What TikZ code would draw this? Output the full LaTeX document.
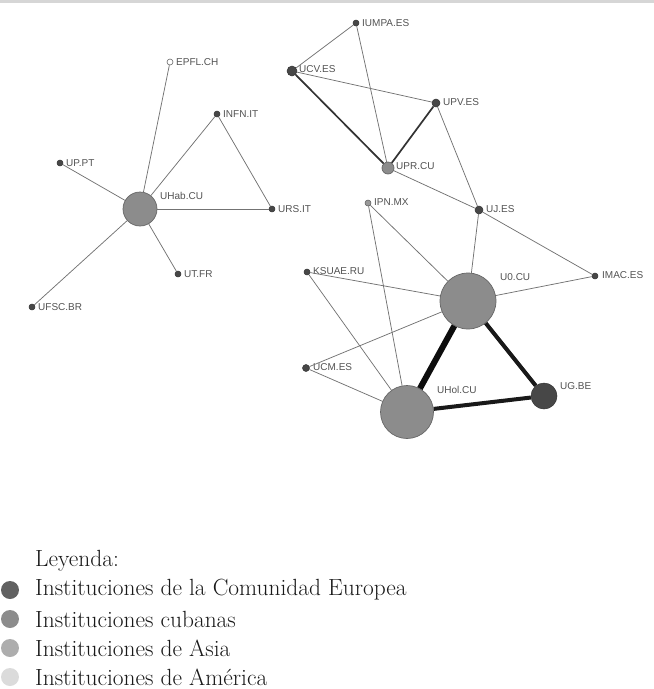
\documentclass[tikz,border=0pt]{standalone}
\usepackage{fontspec}
\newfontfamily\labfont{Liberation Sans}
\begin{document}
\begin{tikzpicture}[x=1pt,y=-1pt,
  eu/.style={circle,fill=black!72,draw=black!80,line width=0.5pt,inner sep=0pt,minimum size=#1},
  cu/.style={circle,fill=black!45,draw=black!60,line width=0.7pt,inner sep=0pt,minimum size=#1},
  am/.style={circle,fill=black!40,draw=black!65,line width=0.5pt,inner sep=0pt,minimum size=#1},
  wt/.style={circle,fill=white,draw=black!60,line width=0.6pt,inner sep=0pt,minimum size=#1},
  lab/.style={font=\labfont\fontsize{10}{11}\selectfont,text=black!68,inner sep=0pt,anchor=west},
  thin/.style={draw=black!55,line width=0.75pt},
  mid/.style={draw=black!80,line width=1.7pt},
  thick/.style={draw=black!90,line width=4pt},
  vthick/.style={draw=black!95,line width=6pt},
  legdot/.style={circle,inner sep=0pt,minimum size=18pt,draw=none},
  legtxt/.style={anchor=west,inner sep=0pt,font=\fontsize{23.4}{25}\selectfont,text=black!90}
]
\useasboundingbox (0,0) rectangle (654,689);
\fill[black!16] (0,0) rectangle (654,3);

% nodes
\node[wt=6pt] (epfl) at (170,62) {};
\node[eu=6pt] (infn) at (217,114) {};
\node[eu=6pt] (uppt) at (60,163) {};
\node[cu=34pt] (uhab) at (140,209) {};
\node[eu=6pt] (urs) at (272,209) {};
\node[eu=6pt] (utfr) at (178,274) {};
\node[eu=6pt] (ufsc) at (32,307) {};

\node[eu=6pt] (iumpa) at (356,23) {};
\node[eu=10pt] (ucv) at (292,71) {};
\node[eu=8pt] (upv) at (436,103) {};
\node[cu=12pt] (upr) at (388,168) {};
\node[am=6pt] (ipn) at (368,203) {};
\node[eu=8pt] (uj) at (479,210) {};
\node[eu=6pt] (ksuae) at (307,272) {};
\node[eu=6pt] (imac) at (595,276) {};
\node[cu=56pt] (u0) at (468,301) {};
\node[eu=7pt] (ucm) at (306,368) {};
\node[cu=53pt] (uhol) at (407,412) {};
\node[eu=26pt] (ug) at (544,396) {};

% labels
\node[lab] (lepfl) at (176,62) {EPFL.CH};
\node[lab] (linfn) at (223,114) {INFN.IT};
\node[lab] (luppt) at (66,163) {UP.PT};
\node[lab] (luhab) at (160,196) {UHab.CU};
\node[lab] (lurs) at (278,209) {URS.IT};
\node[lab] (lutfr) at (184,274) {UT.FR};
\node[lab] (lufsc) at (38,307) {UFSC.BR};
\node[lab] (liumpa) at (362,23) {IUMPA.ES};
\node[lab] (lucv) at (299,69) {UCV.ES};
\node[lab] (lupv) at (443,102) {UPV.ES};
\node[lab] (lupr) at (396,166) {UPR.CU};
\node[lab] (lipn) at (374,202) {IPN.MX};
\node[lab] (luj) at (486,209) {UJ.ES};
\node[lab] (lksuae) at (313,271) {KSUAE.RU};
\node[lab] (limac) at (602,275) {IMAC.ES};
\node[lab] (lu0) at (500,277) {U0.CU};
\node[lab] (lucm) at (313,367) {UCM.ES};
\node[lab] (luhol) at (437,390) {UHol.CU};
\node[lab] (lug) at (560,386) {UG.BE};

% edges
\draw[thin] (uhab) -- (epfl);
\draw[thin] (uhab) -- (infn);
\draw[thin] (infn) -- (urs);
\draw[thin] (uhab) -- (urs);
\draw[thin] (uhab) -- (uppt);
\draw[thin] (uhab) -- (utfr);
\draw[thin] (uhab) -- (ufsc);
\draw[thin] (iumpa) -- (ucv);
\draw[thin] (iumpa) -- (upr);
\draw[thin] (ucv) -- (upv);
\draw[mid] (ucv) -- (upr);
\draw[mid] (upv) -- (upr);
\draw[thin] (upv) -- (uj);
\draw[thin] (upr) -- (uj);
\draw[thin] (uj) -- (imac);
\draw[thin] (uj) -- (u0);
\draw[thin] (ipn) -- (u0);
\draw[thin] (ipn) -- (uhol);
\draw[thin] (ksuae) -- (u0);
\draw[thin] (ksuae) -- (uhol);
\draw[thin] (ucm) -- (u0);
\draw[thin] (ucm) -- (uhol);
\draw[thin] (imac) -- (u0);
\draw[vthick] (u0) -- (uhol);
\draw[thick] (u0) -- (ug);
\draw[thick] (uhol) -- (ug);

% legend
\node[legtxt] (ley) at (35,561) {Leyenda:};
\node[legdot,fill=black!62] (d1) at (10,590) {};
\node[legtxt] (t1) at (35,590) {Instituciones de la Comunidad Europea};
\node[legdot,fill=black!45] (d2) at (10,619) {};
\node[legtxt] (t2) at (35,619) {Instituciones cubanas};
\node[legdot,fill=black!32] (d3) at (10,648) {};
\node[legtxt] (t3) at (35,648) {Instituciones de Asia};
\node[legdot,fill=black!14] (d4) at (10,677) {};
\node[legtxt] (t4) at (35,677) {Instituciones de América};
\end{tikzpicture}
\end{document}
